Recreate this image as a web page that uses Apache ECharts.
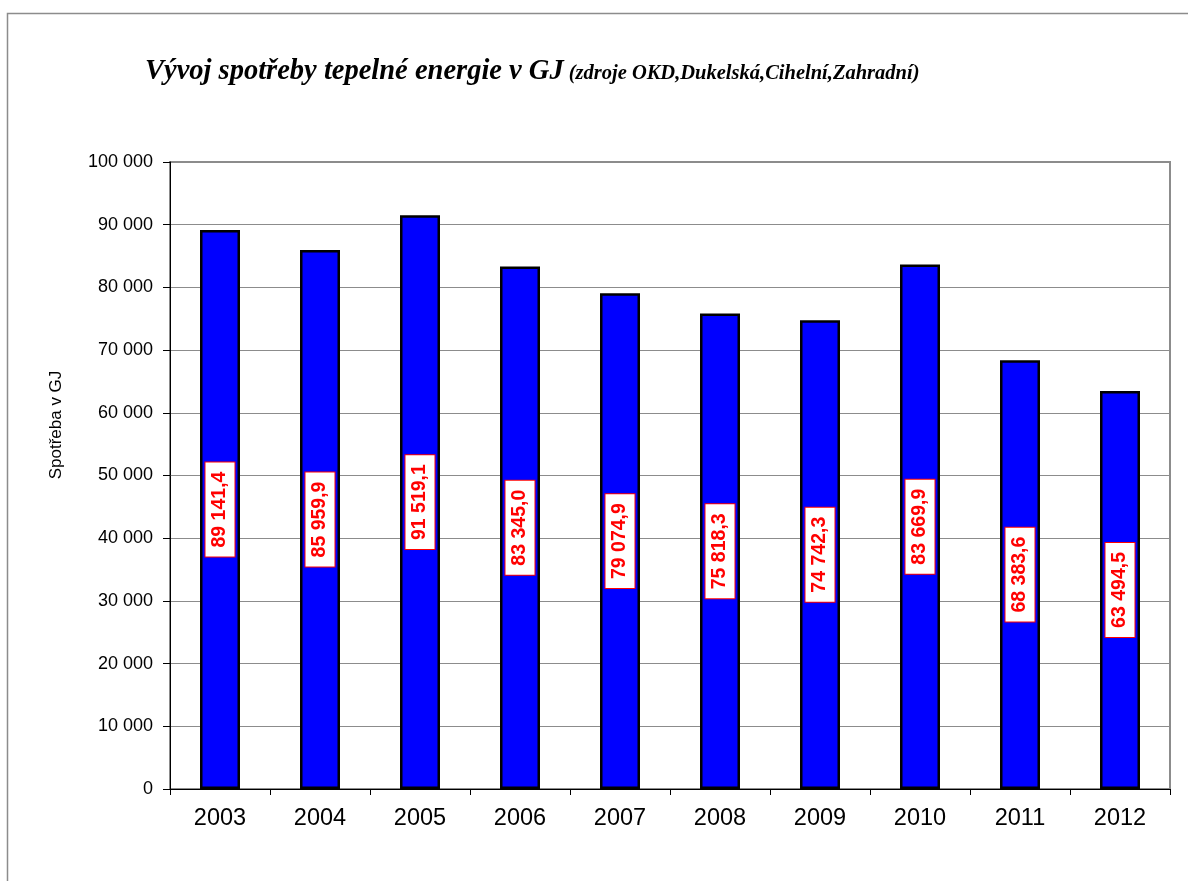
<!DOCTYPE html>
<html>
<head>
<meta charset="utf-8">
<title>Vývoj spotřeby tepelné energie</title>
<script src="https://cdn.jsdelivr.net/npm/echarts@6/dist/echarts.min.js"></script>
<style>
  html, body { margin: 0; padding: 0; background: #fff; }
  #main { width: 1188px; height: 881px; }
</style>
</head>
<body>
<div id="main"></div>
<script>
// data
const years = ['2003', '2004', '2005', '2006', '2007', '2008', '2009', '2010', '2011', '2012'];
const consumption = [89141.4, 85959.9, 91519.1, 83345.0, 79074.9, 75818.3, 74742.3, 83669.9, 68383.6, 63494.5];
const yTicks = { min: 0, max: 100000, interval: 10000 };

// 89141.4 -> "89 141,4"
function fmtThousands(v, dec) {
  const s = v.toFixed(dec);
  const parts = s.split('.');
  const intPart = parts[0].replace(/\B(?=(\d{3})+(?!\d))/g, ' ');
  return parts.length > 1 ? intPart + ',' + parts[1] : intPart;
}

const chart = echarts.init(document.getElementById('main'));

const option = {
  animation: false,
  backgroundColor: '#fff',
  title: {
    text: '{a|Vývoj spotřeby tepelné energie v GJ} {b|(zdroje OKD,Dukelská,Cihelní,Zahradní)}',
    left: 140,
    top: 52,
    textStyle: {
      rich: {
        a: { fontFamily: 'Liberation Serif', fontStyle: 'italic', fontWeight: 'bold', fontSize: 28.5, color: '#000' },
        b: { fontFamily: 'Liberation Serif', fontStyle: 'italic', fontWeight: 'bold', fontSize: 20.5, color: '#000', padding: [5, 0, 0, 0] }
      }
    }
  },
  graphic: [
    {
      // outer chart border (runs off the page on right and bottom)
      type: 'rect',
      shape: { x: 7.5, y: 13.5, width: 1400, height: 1000 },
      style: { fill: 'none', stroke: '#8c8c8c', lineWidth: 1.5 },
      silent: true
    },
    {
      type: 'text',
      x: 56,
      y: 425,
      rotation: Math.PI / 2,
      style: {
        text: 'Spotřeba v GJ',
        fontFamily: 'Liberation Sans, Arial',
        fontSize: 17,
        fill: '#000',
        align: 'center',
        verticalAlign: 'middle'
      }
    }
  ],
  grid: {
    left: 170,
    right: 18,
    top: 162,
    bottom: 92,
    show: true,
    borderColor: '#8c8c8c',
    borderWidth: 2,
    backgroundColor: '#fff'
  },
  xAxis: {
    type: 'category',
    data: years,
    axisLine: { lineStyle: { color: '#000', width: 1 } },
    axisTick: { show: true, length: 6, lineStyle: { color: '#000' } },
    axisLabel: {
      margin: 18,
      fontFamily: 'Liberation Sans, Arial',
      fontSize: 23.5,
      color: '#000'
    }
  },
  yAxis: {
    type: 'value',
    min: yTicks.min,
    max: yTicks.max,
    interval: yTicks.interval,
    axisLine: { show: true, lineStyle: { color: '#000', width: 1 } },
    axisTick: { show: true, length: 7, lineStyle: { color: '#000' } },
    splitLine: { lineStyle: { color: '#8c8c8c', width: 1 } },
    axisLabel: {
      margin: 17,
      fontFamily: 'Liberation Sans, Arial',
      fontSize: 18,
      color: '#000',
      formatter: function (v) { return fmtThousands(v, 0); }
    }
  },
  series: [
    {
      type: 'bar',
      data: consumption,
      barWidth: 40,
      itemStyle: { color: '#0000ff', borderColor: '#000', borderWidth: 2.5 },
      label: {
        show: true,
        position: 'inside',
        rotate: 90,
        formatter: function (p) { return fmtThousands(p.value, 1); },
        fontFamily: 'Liberation Sans, Arial',
        fontWeight: 'bold',
        fontSize: 19.5,
        color: '#ff0000',
        backgroundColor: '#fff',
        borderColor: '#ff0000',
        borderWidth: 1,
        padding: [5, 9, 4, 9]
      }
    }
  ]
};

chart.setOption(option);
</script>
</body>
</html>
